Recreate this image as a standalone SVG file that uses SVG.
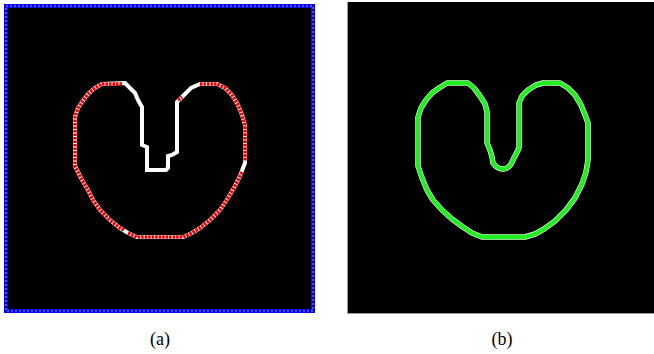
<svg xmlns="http://www.w3.org/2000/svg" width="654" height="354" viewBox="0 0 654 354">
<style>
.cap{font-family:"Liberation Serif","Times New Roman",serif;font-size:18px;fill:#000;text-anchor:middle}
.wh{fill:none;stroke:#fff;stroke-width:4;stroke-linejoin:miter}
.rd{fill:none;stroke:#f00000;stroke-width:3.6;stroke-dasharray:2.6 0.9}
.gw{fill:none;stroke:#fff;stroke-width:5.5;stroke-linejoin:round}
.gr{fill:none;stroke:#22ee22;stroke-width:4.4;stroke-linejoin:round;stroke-linecap:round}
</style>
<rect width="654" height="354" fill="#fff"/>
<g id="panel-a">
<rect x="6" y="6" width="307" height="305" fill="#000" stroke="#0000e6" stroke-width="4"/>
<rect x="6" y="6" width="307" height="305" fill="none" stroke="#4a4aff" stroke-width="2.5" stroke-dasharray="2 2"/>
<path class="wh" d="M125,83 L130,88 L135,93 L138,100 L142,107 L142,145 L147,147 L147,168 L147,170 L166,170 L168,168 L168,156 L172,155 L177,152 L177,102 L182,97 L186,93 L191,88 L200,84 L217,84 L225,88 L232,95 L238,105 L242,115 L245,125 L245,163 L243,168 L240,176 L235,186 L228,198 L220,210 L210,220 L200,228 L192,233 L183,237 L137,237 L128,233 L120,228 L110,220 L100,210 L93,200 L88,190 L82,180 L78,172 L75,166 L75,117 L78,108 L82,102 L88,94 L95,88 L102,84 Z"/>
<path class="rd" d="M200,84 L217,84 L225,88 L232,95 L238,105 L242,115 L245,125 L245,161"/>
<path class="rd" d="M242,172 L240,176 L235,186 L228,198 L220,210 L210,220 L200,228 L192,233 L183,237 L137,237 L128,233"/>
<path class="rd" d="M124,230 L120,228 L110,220 L100,210 L93,200 L88,190 L82,180 L78,172 L75,166 L75,117 L78,108 L82,102 L88,94 L95,88 L102,84 L122,84"/>
<path class="rd" d="M178,100 L182,97"/>
</g>
<g id="panel-b">
<rect x="348" y="2" width="306" height="311" fill="#000"/>
<line x1="347.5" y1="2" x2="347.5" y2="313.5" stroke="#999" stroke-width="1"/>
<line x1="347.5" y1="313.5" x2="654" y2="313.5" stroke="#999" stroke-width="1"/>
<path class="gw" d="M468,83 L474,88 L480,96 L485,104 L487,112 L487,143 L490,150 L492,157 L493,163 Q497,169 503,169 Q509,169 512,162 L516,154 L519,148 L519,103 L522,96 L528,90 L536,85 L543,83 L560,83 L568,88 L575,95 L581,105 L585,115 L588,123 L588,160 L586,172 L582,184 L575,198 L566,210 L555,221 L544,229 L535,234 L525,237 L482,237 L472,233 L463,227 L452,219 L442,210 L433,200 L427,190 L422,178 L418,166 L418,117 L421,108 L426,100 L432,93 L439,88 L447,83 Z"/>
<path class="gr" d="M468,83 L474,88 L480,96 L485,104 L487,112 L487,143 L490,150 L492,157 L493,163 Q497,169 503,169 Q509,169 512,162 L516,154 L519,148 L519,103 L522,96 L528,90 L536,85 L543,83 L560,83 L568,88 L575,95 L581,105 L585,115 L588,123 L588,160 L586,172 L582,184 L575,198 L566,210 L555,221 L544,229 L535,234 L525,237 L482,237 L472,233 L463,227 L452,219 L442,210 L433,200 L427,190 L422,178 L418,166 L418,117 L421,108 L426,100 L432,93 L439,88 L447,83 Z"/>
</g>
<text class="cap" x="160" y="345">(a)</text>
<text class="cap" x="502" y="345">(b)</text>
</svg>
